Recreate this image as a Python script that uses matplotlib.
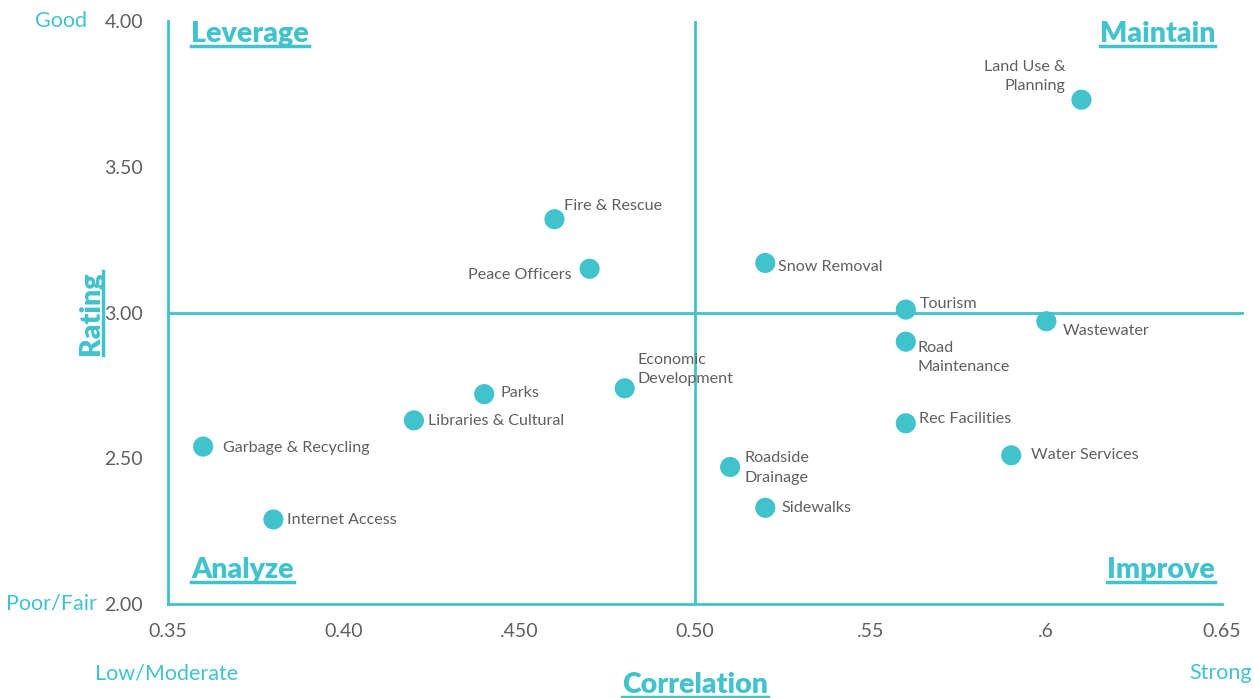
import matplotlib.pyplot as plt
from matplotlib.lines import Line2D

# Data
services = ['Land Use &\nPlanning', 'Fire & Rescue', 'Peace Officers', 'Snow Removal',
            'Tourism', 'Wastewater', 'Road\nMaintenance', 'Economic\nDevelopment',
            'Parks', 'Libraries & Cultural', 'Rec Facilities', 'Garbage & Recycling',
            'Water Services', 'Roadside\nDrainage', 'Sidewalks', 'Internet Access']
correlation = [0.61, 0.46, 0.47, 0.52, 0.56, 0.60, 0.56, 0.48,
               0.44, 0.42, 0.56, 0.36, 0.59, 0.51, 0.52, 0.38]
rating = [3.73, 3.32, 3.15, 3.17, 3.01, 2.97, 2.90, 2.74,
          2.72, 2.63, 2.62, 2.54, 2.51, 2.47, 2.33, 2.29]

x_ticks = [0.35, 0.40, 0.45, 0.50, 0.55, 0.60, 0.65]
x_tick_labels = ['0.35', '0.40', '.450', '0.50', '.55', '.6', '0.65']
y_ticks = [2.0, 2.5, 3.0, 3.5, 4.0]
y_tick_labels = ['2.00', '2.50', '3.00', '3.50', '4.00']

# label offsets in pixels (dx, dy, ha)
offsets = [(-16, 23, 'right'), (10, 13, 'left'), (-18, -6, 'right'), (13, -4, 'left'),
           (14, 6, 'left'), (16, -10, 'left'), (12, -16, 'left'), (13, 19, 'left'),
           (16, 1, 'left'), (14, -1, 'left'), (13, 4, 'left'), (20, -1, 'left'),
           (20, 0, 'left'), (14, -1, 'left'), (16, 0, 'left'), (14, -1, 'left')]

teal = '#41C2CD'
grey = '#5F5F5F'

plt.rcParams['font.family'] = ['Lato', 'DejaVu Sans']

fig = plt.figure(figsize=(12.54, 6.98), dpi=100)
ax = fig.add_axes([168/1254, 94/698, 1054/1254, 583/698])

ax.set_xlim(0.35, 0.65)
ax.set_ylim(2.0, 4.0)

# quadrant lines
ax.axvline(0.5, color=teal, lw=2)
ax.axhline(3.0, xmin=0, xmax=1.019, color=teal, lw=2, clip_on=False)

ax.scatter(correlation, rating, s=210, color=teal, zorder=3, edgecolors='none')

for name, cx, cy, (dx, dy, ha) in zip(services, correlation, rating, offsets):
    ax.annotate(name, (cx, cy), xytext=(dx * 0.72, dy * 0.72), textcoords='offset points',
                ha=ha, va='center', fontsize=11.6, color=grey, multialignment=ha,
                linespacing=1.5)

for side in ['top', 'right']:
    ax.spines[side].set_visible(False)
for side in ['left', 'bottom']:
    ax.spines[side].set_color(teal)
    ax.spines[side].set_linewidth(2)

ax.set_xticks(x_ticks)
ax.set_xticklabels(x_tick_labels)
ax.set_yticks(y_ticks)
ax.set_yticklabels(y_tick_labels)
ax.tick_params(length=0, labelsize=14, labelcolor=grey)
ax.tick_params(axis='x', pad=14)
ax.tick_params(axis='y', pad=18)

# extra text
quad_kw = dict(fontsize=20.5, fontweight='heavy', color=teal, transform=ax.transAxes, va='center')
quads = [
    ax.text(0.0218, 0.977, 'Leverage', ha='left', **quad_kw),
    ax.text(0.9934, 0.977, 'Maintain', ha='right', **quad_kw),
    ax.text(0.0218, 0.058, 'Analyze', ha='left', **quad_kw),
    ax.text(0.9934, 0.058, 'Improve', ha='right', **quad_kw),
]
t_corr = fig.text(695/1254, 1 - 685/698, 'Correlation', ha='center', va='center',
                  fontsize=20.5, fontweight='heavy', color=teal)
t_rate = fig.text(91/1254, 1 - 313/698, 'Rating', ha='center', va='center', rotation=90,
                  fontsize=20.5, fontweight='heavy', color=teal)

fig.text(87/1254, 1 - 21/698, 'Good', ha='right', va='center', fontsize=15.5, color=teal)
fig.text(97/1254, 1 - 604/698, 'Poor/Fair', ha='right', va='center', fontsize=15.5, color=teal)
fig.text(167/1254, 1 - 673/698, 'Low/Moderate', ha='center', va='center', fontsize=15.5, color=teal)
fig.text(1252/1254, 1 - 673/698, 'Strong', ha='right', va='center', fontsize=15.5, color=teal)

# underlines
fig.canvas.draw()
renderer = fig.canvas.get_renderer()
inv = fig.transFigure.inverted()
for t in quads + [t_corr]:
    bb = t.get_window_extent(renderer)
    (x0, y0), (x1, y1) = inv.transform([(bb.x0, bb.y0 + 1), (bb.x1, bb.y0 + 1)])
    fig.add_artist(Line2D([x0, x1], [y0, y1], color=teal, lw=2.5, transform=fig.transFigure))
bb = t_rate.get_window_extent(renderer)
(x0, y0), (x1, y1) = inv.transform([(bb.x1 - 1, bb.y0), (bb.x1 - 1, bb.y1)])
fig.add_artist(Line2D([x0, x1], [y0, y1], color=teal, lw=2.5, transform=fig.transFigure))

fig.savefig('out.png', dpi=100)
